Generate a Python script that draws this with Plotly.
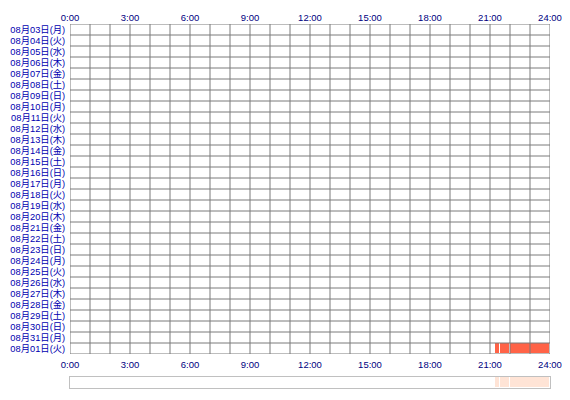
import plotly.graph_objects as go

# ---- data ----
day_labels = [
    "08月03日(月)", "08月04日(火)", "08月05日(水)", "08月06日(木)", "08月07日(金)",
    "08月08日(土)", "08月09日(日)", "08月10日(月)", "08月11日(火)", "08月12日(水)",
    "08月13日(木)", "08月14日(金)", "08月15日(土)", "08月16日(日)", "08月17日(月)",
    "08月18日(火)", "08月19日(水)", "08月20日(木)", "08月21日(金)", "08月22日(土)",
    "08月23日(日)", "08月24日(月)", "08月25日(火)", "08月26日(水)", "08月27日(木)",
    "08月28日(金)", "08月29日(土)", "08月30日(日)", "08月31日(月)", "08月01日(火)",
]
seg_day = ["08月01日(火)", "08月01日(火)", "08月01日(火)"]
seg_start = [21.25, 21.5, 22.0]
seg_end = [21.5, 22.0, 24.0]
tick_hours = [0, 3, 6, 9, 12, 15, 18, 21, 24]
tick_text = ["0:00", "3:00", "6:00", "9:00", "12:00", "15:00", "18:00", "21:00", "24:00"]

GRID = "#7a7a7a"
RED = "#ff6347"
PEACH = "#ffe4d6"
XLAB = "#000080"
YLAB = "#0000b0"

row_index = {d: i for i, d in enumerate(day_labels)}
seg_rows = [row_index[d] for d in seg_day]
seg_len = [e - s for s, e in zip(seg_start, seg_end)]

fig = go.Figure()
fig.add_trace(go.Bar(
    orientation="h", y=seg_rows, x=seg_len, base=seg_start, width=1.0,
    marker=dict(color=RED, line=dict(color="white", width=1)),
    xaxis="x", yaxis="y", showlegend=False, hoverinfo="skip",
))
fig.add_trace(go.Bar(
    orientation="h", y=[0] * len(seg_start), x=seg_len, base=seg_start, width=1.0,
    marker=dict(color=PEACH, line=dict(color="white", width=1)),
    xaxis="x2", yaxis="y2", showlegend=False, hoverinfo="skip",
))

# grid drawn above the bars
shapes = []
for h in range(0, 25):
    shapes.append(dict(type="line", xref="x", yref="y", x0=h, x1=h,
                       y0=-0.5, y1=len(day_labels) - 0.5,
                       line=dict(color=GRID, width=1), layer="above"))
for r in range(len(day_labels) + 1):
    shapes.append(dict(type="line", xref="x", yref="y", x0=0, x1=24,
                       y0=r - 0.5, y1=r - 0.5,
                       line=dict(color=GRID, width=1), layer="above"))

YFONT = "Liberation Sans, Noto Sans CJK JP"

fig.update_layout(
    width=570, height=400,
    margin=dict(l=70, r=20, t=0, b=0, autoexpand=False),
    paper_bgcolor="white", plot_bgcolor="white",
    bargap=0, barmode="overlay",
    shapes=shapes,
    xaxis=dict(range=[0, 24], side="top", anchor="y", tickvals=tick_hours, ticktext=tick_text,
               showgrid=False, zeroline=False, showline=False,
               ticks="", 
               tickfont=dict(family="Liberation Sans", size=9.5, color=XLAB)),
    yaxis=dict(domain=[0.115, 0.94], range=[len(day_labels) - 0.5, -0.5],
               tickvals=list(range(len(day_labels))), ticktext=day_labels,
               showgrid=False, zeroline=False, showline=False,
               ticks="outside", ticklen=2, tickcolor="rgba(0,0,0,0)",
               tickfont=dict(family=YFONT, size=9.3, color=YLAB)),
    xaxis2=dict(range=[0, 24], side="top", anchor="y2", tickvals=tick_hours, ticktext=tick_text,
                showgrid=False, zeroline=False, showline=True, mirror=True,
                linecolor="#c0c0c0", linewidth=1,
                ticks="outside", ticklen=4, tickcolor="rgba(0,0,0,0)",
                tickfont=dict(family="Liberation Sans", size=9.5, color=XLAB)),
    yaxis2=dict(domain=[0.03, 0.0575], range=[-0.5, 0.5], showticklabels=False,
                showgrid=False, zeroline=False, showline=True, mirror=True,
                linecolor="#c0c0c0", linewidth=1, anchor="x2"),
)

fig.write_html("out.html", config={"displayModeBar": False},
               post_script="document.body.style.margin='0';")
